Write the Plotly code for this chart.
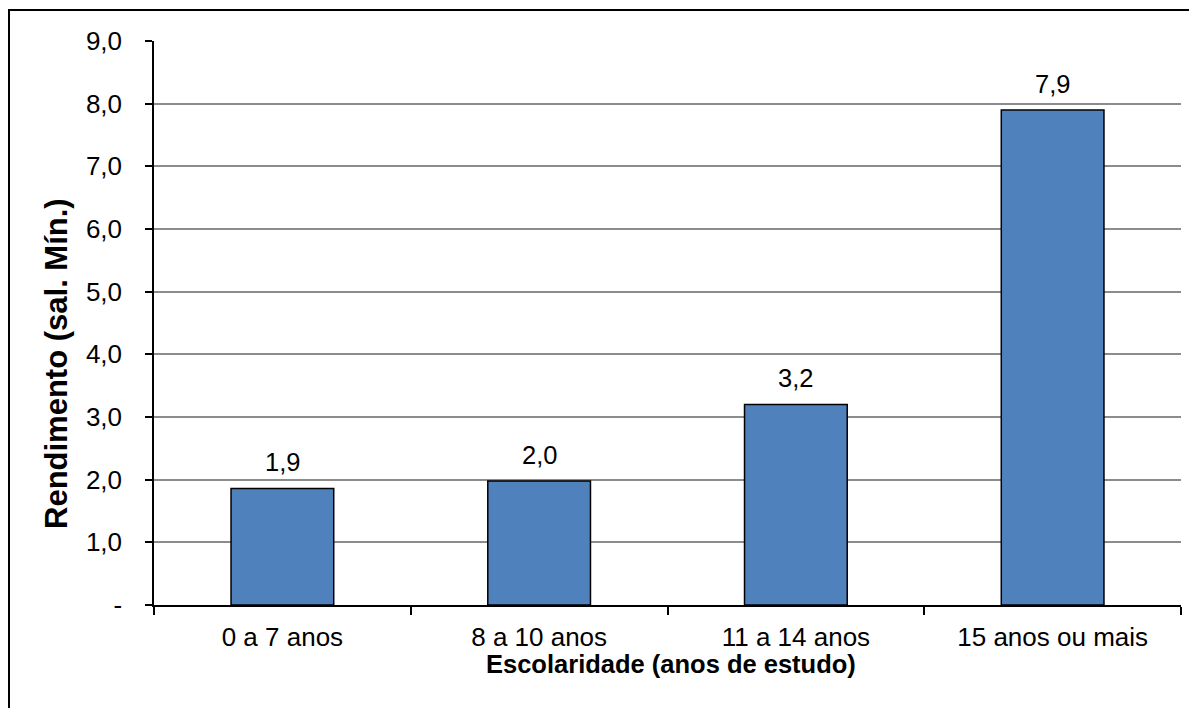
import plotly.graph_objects as go

categories = ["0 a 7 anos", "8 a 10 anos", "11 a 14 anos", "15 anos ou mais"]
values = [1.86, 1.98, 3.2, 7.9]
y_tick_vals = [0, 1, 2, 3, 4, 5, 6, 7, 8, 9]
y_tick_text = ["-", "1,0", "2,0", "3,0", "4,0", "5,0", "6,0", "7,0", "8,0", "9,0"]
labels = [f"{v:.1f}".replace(".", ",") for v in values]
x_title = "Escolaridade (anos de estudo)"
y_title = "Rendimento (sal. Mín.)"

FONT = "Liberation Sans, Arial, sans-serif"
# page body has an 8px margin; figure sized so plot area lands where the reference has it
W, H = 1181, 700
L, R, T, B = 146, 8, 33, 103
pw, ph = W - L - R, H - T - B

fig = go.Figure()
fig.add_trace(go.Bar(
    x=categories, y=values,
    marker=dict(color="#4F81BD", line=dict(color="black", width=1.5)),
    width=0.4, hoverinfo="skip",
))

for c, v, t in zip(categories, values, labels):
    fig.add_annotation(
        x=c, y=v, text=t, showarrow=False, xanchor="center", yanchor="bottom",
        yshift=10, font=dict(family=FONT, size=25.5, color="black"),
    )

def px_x(p):  # page x -> paper
    return (p - 8 - L) / pw

def px_y(p):  # page y -> paper
    return (H - B - (p - 8)) / ph

fig.add_annotation(
    x=px_x(56), y=px_y(364), xref="paper", yref="paper", text=f"<b>{y_title}</b>",
    textangle=-90, showarrow=False, xanchor="center", yanchor="middle",
    font=dict(family=FONT, size=31, color="black"),
)
fig.add_annotation(
    x=px_x(671), y=px_y(664), xref="paper", yref="paper", text=f"<b>{x_title}</b>",
    showarrow=False, xanchor="center", yanchor="middle",
    font=dict(family=FONT, size=25.5, color="black"),
)

fig.update_layout(
    width=W, height=H,
    margin=dict(l=L, r=R, t=T, b=B),
    paper_bgcolor="white", plot_bgcolor="white",
    font=dict(family=FONT, size=25, color="black"),
    showlegend=False,
)
fig.update_xaxes(
    showline=True, linecolor="black", linewidth=1.5,
    ticks="outside", ticklen=8, tickcolor="black", tickwidth=1.5,
    tickson="boundaries", showgrid=False, ticklabelstandoff=8,
    tickfont=dict(family=FONT, size=26, color="black"),
)
fig.update_yaxes(
    range=[0, 9], tickvals=y_tick_vals, ticktext=y_tick_text,
    showline=True, linecolor="black", linewidth=1.5,
    ticks="outside", ticklen=7, tickcolor="black", tickwidth=1.5,
    showgrid=True, gridcolor="#8C8C8C", gridwidth=1.5,
    zeroline=False, ticklabelstandoff=18,
    tickfont=dict(family=FONT, size=26, color="black"),
)

# outer frame (left and top visible, right/bottom fall outside the picture)
fig.add_shape(
    type="rect", xref="paper", yref="paper",
    x0=(1 - L) / pw, x1=(W + 20 - L) / pw,
    y0=(H - B - (H + 20)) / ph, y1=(H - B - 2) / ph,
    line=dict(color="black", width=2), fillcolor="rgba(0,0,0,0)", layer="above",
)

fig.write_html("out.html")
